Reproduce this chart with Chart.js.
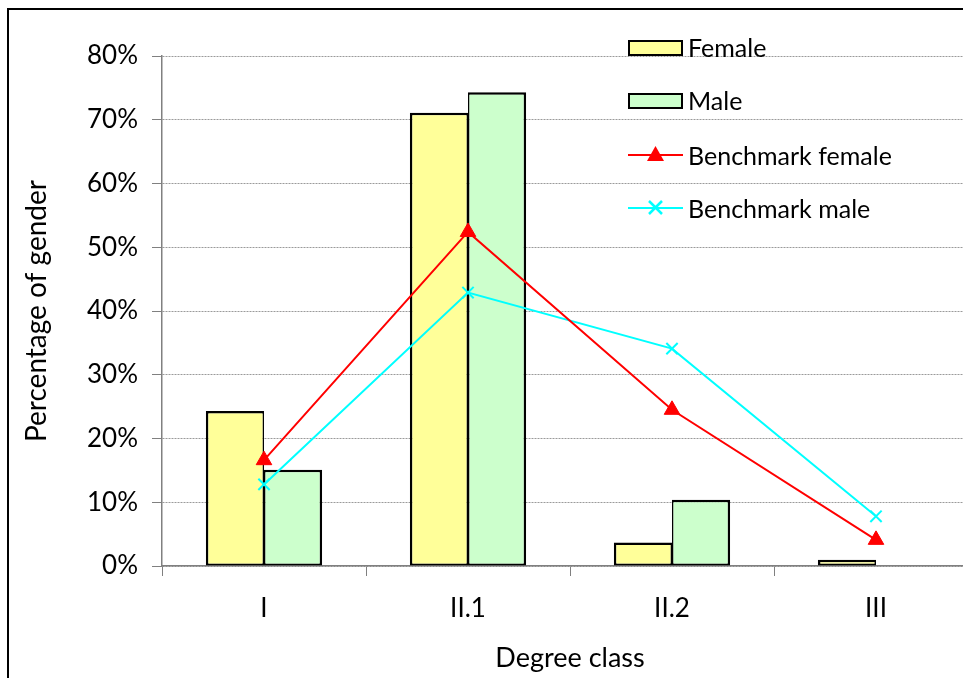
<!DOCTYPE html>
<html>
<head>
<meta charset="utf-8">
<script src="https://cdn.jsdelivr.net/npm/chart.js@4"></script>
<style>
    body { margin: 0; overflow: hidden; background: #fff; font-family: 'Lato', sans-serif; }
    #wrap { position: relative; width: 963px; height: 678px; overflow: hidden; }
    #chart { position: absolute; left: 0; top: 0; }
    .legend { position: absolute; left: 628px; top: 30px; }
    .item { position: absolute; left: 0; height: 30px; width: 320px; }
    .item span { position: absolute; left: 60px; top: 0; font-size: 25px; line-height: 30px; color: #000; white-space: nowrap; }
    .box { position: absolute; left: 0; top: 8px; width: 51px; height: 12px; border: 2px solid #000; }
    .line { position: absolute; left: 0; top: 14px; width: 55px; height: 2px; }
    .mark { position: absolute; left: 19px; top: 6px; }
</style>
</head>
<body>
<div id="wrap">
    <canvas id="chart" width="988" height="678"></canvas>
    <div class="legend">
        <div class="item" style="top:2px"><div class="box" style="background:#ffff99"></div><span>Female</span></div>
        <div class="item" style="top:55px"><div class="box" style="background:#ccffcc"></div><span>Male</span></div>
        <div class="item" style="top:110px"><div class="line" style="background:#ff0000"></div>
            <svg class="mark" width="17" height="16"><polygon points="8.5,0 17,15 0,15" fill="#ff0000"/></svg><span>Benchmark female</span></div>
        <div class="item" style="top:163px"><div class="line" style="background:#00ffff"></div>
            <svg class="mark" width="17" height="17"><path d="M2,2 L15,15 M15,2 L2,15" stroke="#00ffff" stroke-width="2.5"/></svg><span>Benchmark male</span></div>
    </div>
</div>
<script>
// Data
const categories = ['I', 'II.1', 'II.2', 'III'];
const female = [24.3, 71.1, 3.7, 1.0];
const male = [15.1, 74.3, 10.4, 0];
const benchmarkFemale = [16.6, 52.4, 24.5, 4.1];
const benchmarkMale = [12.8, 42.9, 34.1, 7.8];
const yTicks = [0, 10, 20, 30, 40, 50, 60, 70, 80];

const FONT = "'Lato', sans-serif";
Chart.defaults.font.family = FONT;
Chart.defaults.color = '#000';

// Outer frame (only left and top edges are visible in the window)
const framePlugin = {
    id: 'frame',
    afterDraw(chart) {
        const ctx = chart.ctx;
        ctx.save();
        ctx.strokeStyle = '#000';
        ctx.lineWidth = 2;
        ctx.beginPath();
        ctx.moveTo(8, 700);
        ctx.lineTo(8, 9);
        ctx.lineTo(1000, 9);
        ctx.stroke();
        ctx.restore();
    }
};

new Chart(document.getElementById('chart'), {
    type: 'bar',
    data: {
        labels: categories,
        datasets: [
            {
                label: 'Female',
                data: female,
                backgroundColor: '#ffff99',
                borderColor: '#000',
                borderWidth: { top: 2.5, left: 2.5, bottom: 2, right: 1.5 },
                borderSkipped: false,
                order: 2
            },
            {
                label: 'Male',
                data: male,
                backgroundColor: '#ccffcc',
                borderColor: '#000',
                borderWidth: { top: 2.5, left: 1.5, bottom: 2, right: 2.5 },
                borderSkipped: false,
                order: 2
            },
            {
                type: 'line',
                label: 'Benchmark female',
                data: benchmarkFemale,
                borderColor: '#ff0000',
                backgroundColor: '#ff0000',
                borderWidth: 2,
                pointStyle: 'triangle',
                pointRadius: 9,
                pointBorderWidth: 1,
                tension: 0,
                order: 1
            },
            {
                type: 'line',
                label: 'Benchmark male',
                data: benchmarkMale,
                borderColor: '#00ffff',
                backgroundColor: '#00ffff',
                borderWidth: 2,
                pointStyle: 'crossRot',
                pointRadius: 8,
                pointBorderWidth: 2,
                tension: 0,
                order: 1
            }
        ]
    },
    options: {
        responsive: false,
        animation: false,
        layout: { padding: { top: 56, left: 0, right: 2, bottom: 0 } },
        plugins: {
            legend: { display: false },
            tooltip: { enabled: false }
        },
        datasets: {
            bar: { categoryPercentage: 0.57, barPercentage: 1.0 }
        },
        scales: {
            x: {
                afterFit(scale) { scale.height = 112; },
                grid: {
                    offset: true,
                    drawOnChartArea: false,
                    drawTicks: true,
                    tickLength: 10,
                    tickColor: '#808080',
                    lineWidth: 1
                },
                border: { color: '#808080', width: 1.5 },
                ticks: { font: { size: 26 }, padding: 17, color: '#000' },
                title: {
                    display: true,
                    text: 'Degree class',
                    font: { size: 27 },
                    padding: { top: 0, bottom: 4 },
                    color: '#000'
                }
            },
            y: {
                min: 0,
                max: 80,
                afterFit(scale) { scale.width = 162; },
                afterBuildTicks(scale) { scale.ticks = yTicks.map(v => ({ value: v })); },
                grid: {
                    color: '#9a9a9a',
                    lineWidth: 1,
                    tickLength: 10,
                    tickColor: '#808080',
                    tickBorderDash: []
                },
                border: { color: '#808080', width: 1.5, dash: [2, 1] },
                ticks: {
                    font: { size: 26 },
                    padding: 14,
                    color: '#000',
                    callback: v => v + '%'
                },
                title: {
                    display: true,
                    text: 'Percentage of gender',
                    font: { size: 28 },
                    padding: { top: 20, bottom: 0 },
                    color: '#000'
                }
            }
        }
    },
    plugins: [framePlugin]
});
</script>
</body>
</html>
